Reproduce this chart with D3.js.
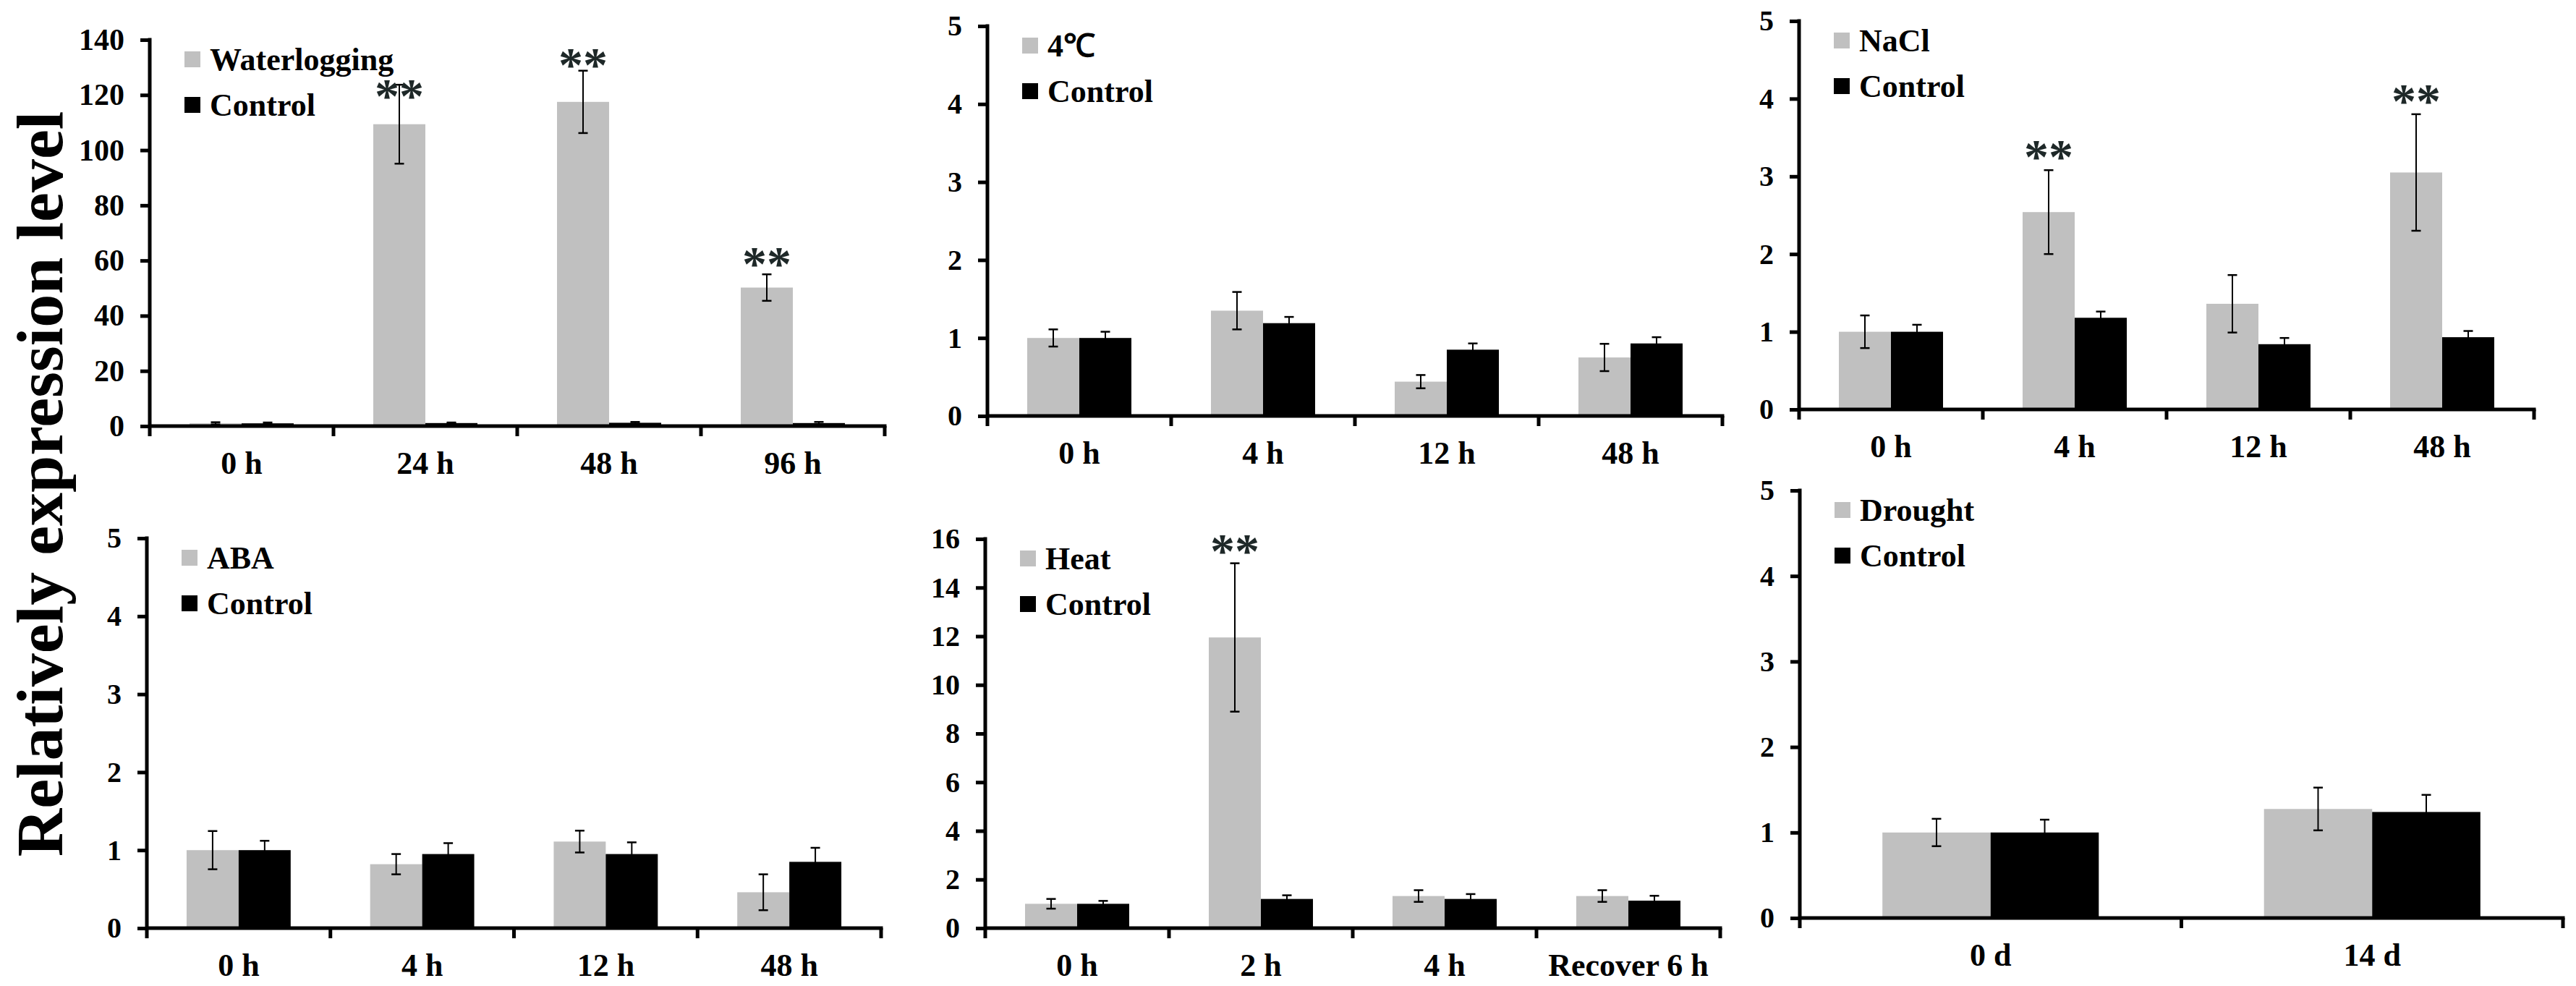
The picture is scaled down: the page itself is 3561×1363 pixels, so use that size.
<!DOCTYPE html>
<html>
<head>
<meta charset="utf-8">
<script src="https://cdn.jsdelivr.net/npm/d3@7"></script>
<style>
  html, body { margin: 0; padding: 0; background: #fff; }
  svg text { font-family: "Liberation Serif", "Times New Roman", serif; font-weight: bold; }
</style>
</head>
<body>
<svg id="chart" width="3561" height="1363"></svg>
<script>
// categories
const waterHours = ['0 h', '24 h', '48 h', '96 h'];
const stressHours = ['0 h', '4 h', '12 h', '48 h'];
const heatHours = ['0 h', '2 h', '4 h', 'Recover 6 h'];
const droughtDays = ['0 d', '14 d'];

// treatment series (mean, error)
const waterlogging = [1.0, 109.4, 117.5, 50.2];
const waterloggingErr = [0.4, 14.3, 11.3, 4.8];
const cold = [1.0, 1.35, 0.44, 0.75];
const coldErr = [0.11, 0.24, 0.085, 0.175];
const nacl = [1.0, 2.54, 1.36, 3.05];
const naclErr = [0.21, 0.54, 0.37, 0.75];
const aba = [1.0, 0.82, 1.11, 0.46];
const abaErr = [0.245, 0.13, 0.14, 0.23];
const heat = [1.0, 11.95, 1.32, 1.32];
const heatErr = [0.2, 3.05, 0.24, 0.24];
const drought = [1.0, 1.275];
const droughtErr = [0.16, 0.25];

// control series
const ctrlWater = [1.0, 1.1, 1.2, 1.1];
const ctrlWaterErr = [0.3, 0.2, 0.3, 0.4];
const ctrlCold = [1.0, 1.19, 0.85, 0.93];
const ctrlColdErr = [0.08, 0.08, 0.08, 0.08];
const ctrlNacl = [1.0, 1.18, 0.84, 0.93];
const ctrlNaclErr = [0.09, 0.08, 0.08, 0.08];
const ctrlAba = [1.0, 0.95, 0.95, 0.85];
const ctrlAbaErr = [0.12, 0.14, 0.15, 0.18];
const ctrlHeat = [1.0, 1.2, 1.2, 1.13];
const ctrlHeatErr = [0.12, 0.15, 0.2, 0.2];
const ctrlDrought = [1.0, 1.24];
const ctrlDroughtErr = [0.15, 0.2];

// significance marks: [category, value just under the stars]
const waterSig = [['24 h', 118.8], ['48 h', 130], ['96 h', 58]];
const naclSig = [['4 h', 3.22], ['48 h', 3.94]];
const heatSig = [['2 h', 15.4]];

// y axis maxima and tick steps
const yMax = [140, 5, 5, 5, 16, 5];
const yStep = [20, 1, 1, 1, 2, 1];

const panels = [
  { name: 'Waterlogging', cats: waterHours, treat: waterlogging, treatErr: waterloggingErr, ctrl: ctrlWater, ctrlErr: ctrlWaterErr, sig: waterSig },
  { name: '4\u2103', cats: stressHours, treat: cold, treatErr: coldErr, ctrl: ctrlCold, ctrlErr: ctrlColdErr, sig: [] },
  { name: 'NaCl', cats: stressHours, treat: nacl, treatErr: naclErr, ctrl: ctrlNacl, ctrlErr: ctrlNaclErr, sig: naclSig },
  { name: 'ABA', cats: stressHours, treat: aba, treatErr: abaErr, ctrl: ctrlAba, ctrlErr: ctrlAbaErr, sig: [] },
  { name: 'Heat', cats: heatHours, treat: heat, treatErr: heatErr, ctrl: ctrlHeat, ctrlErr: ctrlHeatErr, sig: heatSig },
  { name: 'Drought', cats: droughtDays, treat: drought, treatErr: droughtErr, ctrl: ctrlDrought, ctrlErr: ctrlDroughtErr, sig: [] }
];

// panel frames in page pixels (x range, zero line, top tick)
const frames = [
  { x0: 207, x1: 1223, y0: 589, y1: 55 },
  { x0: 1365, x1: 2381, y0: 575, y1: 36 },
  { x0: 2487, x1: 3503, y0: 566, y1: 29 },
  { x0: 203, x1: 1218, y0: 1283, y1: 744 },
  { x0: 1362, x1: 2378, y0: 1283, y1: 745 },
  { x0: 2488, x1: 3543, y0: 1269, y1: 678 }
];

const serif = '"Liberation Serif", "Times New Roman", serif';
const colors = { treat: '#c0c0c0', ctrl: '#000000' };
const axisWidth = 5;
const tickLen = 13;

const svg = d3.select('#chart');

svg.append('rect')
  .attr('width', 3561)
  .attr('height', 1363)
  .attr('fill', '#fff');

function drawPanel(p, f, i) {
  const g = svg.append('g')
    .classed('panel', true)
    .attr('font-family', serif)
    .attr('font-weight', 'bold');

  const x = d3.scaleBand()
    .domain(p.cats)
    .range([f.x0, f.x1]);
  const bw = x.bandwidth();
  const inner = d3.scaleBand()
    .domain(['treat', 'ctrl'])
    .range([bw * 0.2165, bw * 0.7835]);
  const y = d3.scaleLinear()
    .domain([0, yMax[i]])
    .range([f.y0, f.y1]);

  const rows = [];
  p.cats.forEach((c, k) => {
    rows.push({ cat: c, key: 'treat', v: p.treat[k], e: p.treatErr[k] });
    rows.push({ cat: c, key: 'ctrl', v: p.ctrl[k], e: p.ctrlErr[k] });
  });

  g.selectAll('rect.bar')
    .data(rows)
    .join('rect')
    .classed('bar', true)
    .attr('x', d => x(d.cat) + inner(d.key))
    .attr('width', inner.bandwidth())
    .attr('y', d => y(d.v))
    .attr('height', d => y(0) - y(d.v))
    .attr('fill', d => colors[d.key]);

  // error bars
  const err = g.selectAll('g.err')
    .data(rows)
    .join('g')
    .classed('err', true)
    .attr('transform', d => `translate(${x(d.cat) + inner(d.key) + inner.bandwidth() / 2},0)`);
  err.append('line')
    .attr('y1', d => y(Math.max(0, d.v - d.e)))
    .attr('y2', d => y(d.v + d.e))
    .attr('stroke', '#000')
    .attr('stroke-width', 2);
  err.append('line')
    .attr('x1', -6.5).attr('x2', 6.5)
    .attr('y1', d => y(d.v + d.e)).attr('y2', d => y(d.v + d.e))
    .attr('stroke', '#000')
    .attr('stroke-width', 2.5);
  err.append('line')
    .attr('x1', -6.5).attr('x2', 6.5)
    .attr('y1', d => y(Math.max(0, d.v - d.e))).attr('y2', d => y(Math.max(0, d.v - d.e)))
    .attr('stroke', '#000')
    .attr('stroke-width', 2.5);

  // significance stars
  g.selectAll('text.sig')
    .data(p.sig)
    .join('text')
    .classed('sig', true)
    .attr('x', d => x(d[0]) + inner('treat') + inner.bandwidth() / 2)
    .attr('y', d => y(d[1]) + 19)
    .attr('text-anchor', 'middle')
    .attr('font-size', 68)
    .attr('fill', '#1e2828')
    .text('**');

  // y axis
  const yAxis = g.append('g')
    .attr('transform', `translate(${f.x0},0)`)
    .call(d3.axisLeft(y)
      .tickValues(d3.range(0, yMax[i] + yStep[i] / 2, yStep[i]))
      .tickFormat(d3.format('d'))
      .tickSize(tickLen)
      .tickSizeOuter(0)
      .tickPadding(22));
  yAxis.attr('font-family', serif);
  yAxis.select('.domain').remove();
  yAxis.selectAll('.tick line')
    .attr('stroke', '#000')
    .attr('stroke-width', axisWidth);
  yAxis.selectAll('.tick text')
    .attr('fill', '#000')
    .attr('font-family', serif)
    .attr('font-weight', 'bold')
    .attr('font-size', i === 0 ? 42 : 40);

  g.append('line')
    .attr('x1', f.x0).attr('x2', f.x0)
    .attr('y1', f.y1 - axisWidth / 2)
    .attr('y2', f.y0 + tickLen + 1)
    .attr('stroke', '#000')
    .attr('stroke-width', axisWidth);

  // x axis
  g.append('line')
    .attr('x1', f.x0).attr('x2', f.x1 + axisWidth / 2)
    .attr('y1', f.y0).attr('y2', f.y0)
    .attr('stroke', '#000')
    .attr('stroke-width', axisWidth);

  const bounds = p.cats.slice(1).map(c => x(c)).concat([f.x1]);
  g.selectAll('line.xtick')
    .data(bounds)
    .join('line')
    .classed('xtick', true)
    .attr('x1', d => d).attr('x2', d => d)
    .attr('y1', f.y0).attr('y2', f.y0 + tickLen + 1)
    .attr('stroke', '#000')
    .attr('stroke-width', axisWidth);

  g.selectAll('text.xlab')
    .data(p.cats)
    .join('text')
    .classed('xlab', true)
    .attr('x', d => x(d) + bw / 2)
    .attr('y', f.y0 + 66)
    .attr('text-anchor', 'middle')
    .attr('font-size', 44)
    .text(d => d);

  // legend
  const legend = g.selectAll('g.legend')
    .data([{ key: 'treat', label: p.name }, { key: 'ctrl', label: 'Control' }])
    .join('g')
    .classed('legend', true)
    .attr('transform', (d, k) => `translate(${f.x0 + 48},${f.y1 + 16 + k * 63})`);
  legend.append('rect')
    .attr('width', 22)
    .attr('height', 22)
    .attr('fill', d => colors[d.key]);
  legend.append('text')
    .attr('x', 35)
    .attr('y', 26)
    .attr('font-size', 44)
    .text(d => d.label);
}

panels.forEach((p, i) => drawPanel(p, frames[i], i));

svg.append('text')
  .attr('transform', 'translate(86,669) rotate(-90)')
  .attr('text-anchor', 'middle')
  .attr('font-family', serif)
  .attr('font-weight', 'bold')
  .attr('font-size', 92)
  .text('Relatively expression level');
</script>
</body>
</html>
